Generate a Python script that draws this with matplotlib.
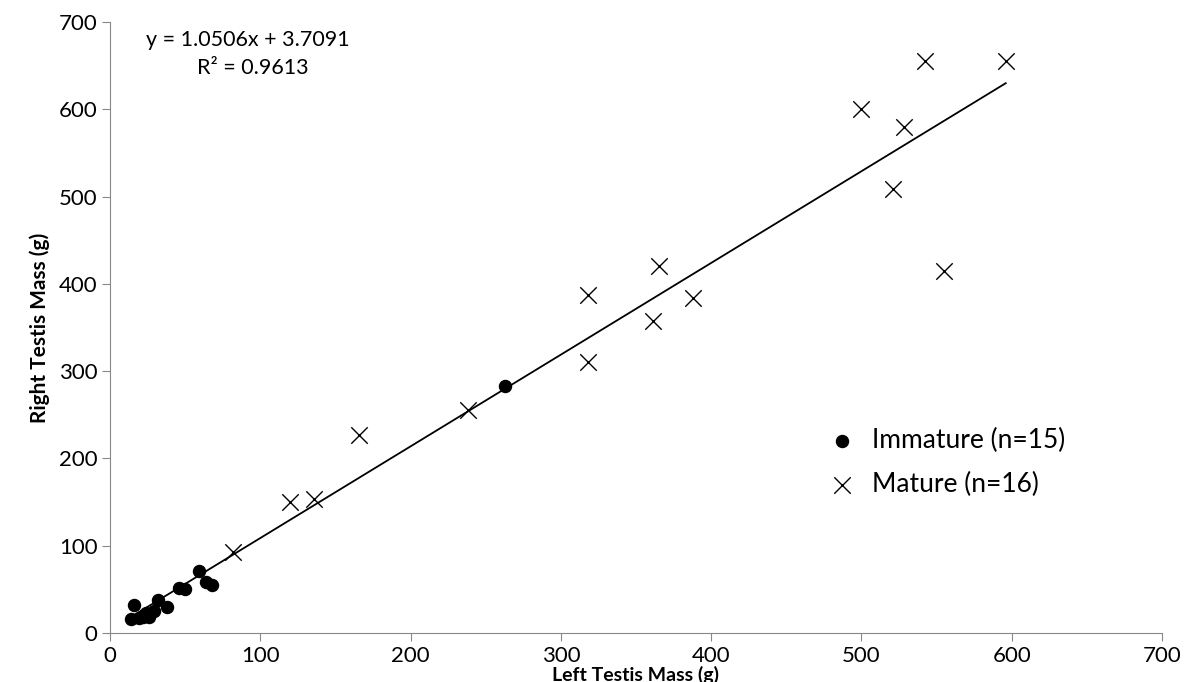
import matplotlib
matplotlib.use('Agg')
import matplotlib.pyplot as plt
import numpy as np

plt.rcParams['font.family'] = ['Lato', 'DejaVu Sans']

immature_x = [14, 16, 19, 22, 24, 26, 29, 32, 38, 46, 50, 59, 64, 68, 263]
immature_y = [16, 32, 17, 18, 23, 18, 25, 38, 30, 51, 50, 71, 59, 55, 283]

mature_x = [82, 120, 136, 166, 238, 318, 318, 361, 365, 388, 500, 521, 528, 542, 555, 596]
mature_y = [93, 150, 153, 227, 256, 310, 387, 358, 420, 384, 600, 509, 580, 655, 415, 655]

slope = 1.0506
intercept = 3.7091
r2 = 0.9613

fig = plt.figure(figsize=(11.85, 6.82), dpi=100)
ax = fig.add_axes([110 / 1185, 1 - 633 / 682, (1162 - 110) / 1185, (633 - 22) / 682])

all_x = immature_x + mature_x
line_x = np.array([min(all_x), max(all_x)])
ax.plot(line_x, slope * line_x + intercept, color='black', lw=1.3, zorder=1)

ax.scatter(immature_x, immature_y, s=75, c='black', marker='o', label='Immature (n=15)', zorder=2)
ax.scatter(mature_x, mature_y, s=140, c='black', marker='x', linewidths=1.0, label='Mature (n=16)', zorder=2)

ax.set_xlim(0, 700)
ax.set_ylim(0, 700)
ax.set_xticks(range(0, 701, 100))
ax.set_yticks(range(0, 701, 100))

for side in ['top', 'right']:
    ax.spines[side].set_visible(False)
for side in ['left', 'bottom']:
    ax.spines[side].set_color('#888888')
ax.tick_params(direction='out', length=6, color='#888888', labelsize=16, pad=3)

ax.set_xlabel('Left Testis Mass (g)', fontsize=14, fontweight='bold', labelpad=0)
ax.set_ylabel('Right Testis Mass (g)', fontsize=15, fontweight='bold', labelpad=6)

ax.text(92, 679, f'y = {slope}x + {intercept}', fontsize=15.5, ha='center', va='center')
ax.text(95, 647, f'R² = {r2}', fontsize=15.5, ha='center', va='center')

ax.legend(loc='upper left', bbox_to_anchor=(0.658, 0.358), frameon=False, fontsize=19,
          handletextpad=0.15, labelspacing=0.72, scatterpoints=1, borderpad=0)

fig.savefig('out.png', dpi=100)
